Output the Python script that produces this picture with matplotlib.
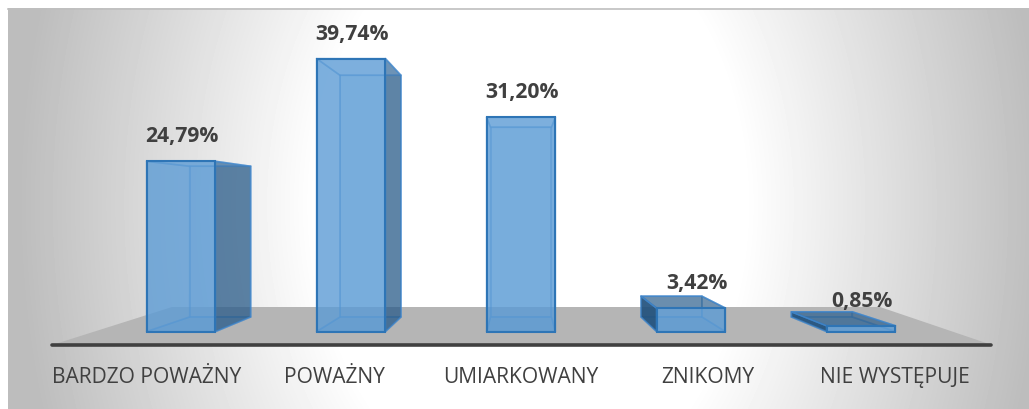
import numpy as np
import matplotlib
matplotlib.use("Agg")
import matplotlib.pyplot as plt
from matplotlib.patches import Polygon

categories = ["BARDZO POWAŻNY", "POWAŻNY", "UMIARKOWANY", "ZNIKOMY", "NIE WYSTĘPUJE"]
values = [24.79, 39.74, 31.20, 3.42, 0.85]
value_labels = ["24,79%", "39,74%", "31,20%", "3,42%", "0,85%"]

W, H = 1029, 410
X_UNIT = 170.0   # px per category
Y_UNIT = 6.87    # px per percent
X0 = 181.0       # px of first bar centre
Y0 = 332.6       # px of value 0
BAR_W = 0.405
DEPTH = 0.885    # back face scale
VP_X, VP_Y = 2.0, 18.5


def px(x):
    return (x - X0) / X_UNIT


def py(y):
    return (Y0 - y) / Y_UNIT


def back(p):
    return (VP_X + DEPTH * (p[0] - VP_X), VP_Y + DEPTH * (p[1] - VP_Y))


def face(ax, pts, color, alpha, z, edge_alpha=0.4):
    ax.add_patch(Polygon(pts, closed=True, facecolor=color, alpha=alpha, edgecolor="none", zorder=z))
    ax.add_patch(Polygon(pts, closed=True, facecolor="none", edgecolor="#3f86cc", linewidth=1.2,
                         alpha=edge_alpha, zorder=z, joinstyle="round"))


plt.rcParams["font.family"] = ["Open Sans", "DejaVu Sans"]
fig = plt.figure(figsize=(W / 100, H / 100), dpi=100, facecolor="white")
ax = fig.add_axes([0, 0, 1, 1])
ax.set_xlim(px(0), px(W))
ax.set_ylim(py(H), py(0))
ax.axis("off")

# background glow
xx, yy = np.meshgrid(np.arange(8, W), np.arange(9, H))
r = np.sqrt(((xx - 530) / 510.0) ** 2 + ((yy - 205) / 700.0) ** 2)
gray = 255 - 66 * np.clip((r - 0.42) / 0.58, 0, 1)
ax.imshow(gray, cmap="gray", vmin=0, vmax=255, extent=(px(8), px(W), py(H), py(9)),
          aspect="auto", zorder=0, interpolation="bilinear")
ax.plot([px(8), px(W)], [py(9.5), py(9.5)], color="#bfbfbf", linewidth=1.2, zorder=1)

# floor and axis line
floor = [(px(52), py(346)), (px(172), py(308)), (px(880), py(308)), (px(992), py(346))]
ax.add_patch(Polygon(floor, closed=True, facecolor="#b5b5b5", edgecolor="none", zorder=1))
ax.plot([px(52), px(991)], [py(346), py(346)], color="#404040", linewidth=2.6,
        solid_capstyle="round", zorder=2)

# bars in perspective
for i, v in enumerate(values):
    x0, x1 = i - BAR_W / 2, i + BAR_W / 2
    fbl, fbr, ftr, ftl = (x0, 0), (x1, 0), (x1, v), (x0, v)
    bbl, bbr, btr, btl = back(fbl), back(fbr), back(ftr), back(ftl)
    z = 3 + i * 0.1
    light = "#5b9bd5"
    dark = "#1f4e79"
    # back and floor of the box first
    face(ax, [bbl, bbr, btr, btl], light, 0.35, z)
    face(ax, [fbl, fbr, bbr, bbl], light, 0.45, z)
    # faces inside the front rectangle are light, the ones outside are dark
    left_out = btl[0] < x0
    right_out = btr[0] > x1
    top_out = btl[1] > v
    face(ax, [fbl, bbl, btl, ftl], dark if left_out else light, 0.88 if left_out else 0.25, z,
         0.7 if left_out else 0.4)
    face(ax, [fbr, bbr, btr, ftr], dark if right_out else light, 0.62 if right_out else 0.25, z,
         0.7 if right_out else 0.4)
    face(ax, [ftl, ftr, btr, btl], dark if top_out else light, 0.55 if top_out else 0.25, z,
         0.8 if top_out else 0.4)
    ax.add_patch(Polygon([fbl, fbr, ftr, ftl], closed=True, facecolor=light, alpha=0.72,
                         edgecolor="none", zorder=z + 0.05))
    ax.add_patch(Polygon([fbl, fbr, ftr, ftl], closed=True, facecolor="none", edgecolor="#2e75b6",
                         linewidth=1.5, zorder=z + 0.06))

    # labels
    shift = 6 if i == 3 else 1
    ax.annotate(value_labels[i], xy=(i, v), xytext=(shift * 0.72, 18.4), textcoords="offset points",
                ha="center", va="center", fontsize=15.2, fontweight="bold", color="#404040", zorder=6)
    ax.text(2 + (i - 2) * 187.0 / X_UNIT, py(377.5), categories[i], ha="center", va="center",
            fontsize=15.1, color="#404040", zorder=6)

fig.savefig("out.png", dpi=100, facecolor="white")
